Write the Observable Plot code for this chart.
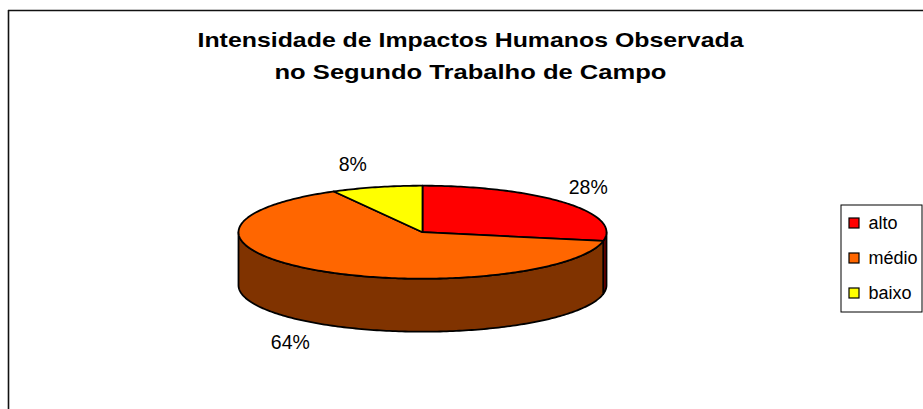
<!DOCTYPE html>
<html>
<head>
<meta charset="utf-8">
<script src="https://cdn.jsdelivr.net/npm/d3@7"></script>
<script src="https://cdn.jsdelivr.net/npm/@observablehq/plot@0.6"></script>
<style>
  html, body { margin: 0; padding: 0; background: #fff; }
  svg { display: block; }
</style>
</head>
<body>
<div id="chart"></div>
<script>
// ---- data ----
const categories = ["alto", "médio", "baixo"];
const values = [28, 64, 8];
const labels = ["28%", "64%", "8%"];
const topColors = ["#FF0000", "#FF6600", "#FFFF00"];
const sideColors = ["#800000", "#803300", "#808000"];
const titleLines = ["Intensidade de Impactos Humanos Observada", "no Segundo Trabalho de Campo"];

// ---- layout ----
const W = 923, H = 409;
const cx = 422, cy = 231.7, rx = 184, ry = 46.5, depth = 53;
const font = "'Liberation Sans', Arial, sans-serif";
const titleWidths = [546, 392];

const total = d3.sum(values);
let acc = 0;
const slices = values.map((v, i) => {
  const a0 = acc / total * 360; acc += v;
  return {i, a0, a1: acc / total * 360};
});

function pt(theta, dz = 0) {
  const r = theta * Math.PI / 180;
  return {x: cx + rx * Math.sin(r), y: cy + dz - ry * Math.cos(r)};
}
function arc(a0, a1, dz) {
  const n = Math.max(2, Math.ceil(a1 - a0));
  return d3.range(n + 1).map(k => pt(a0 + (a1 - a0) * k / n, dz));
}

const walls = [];
const tops = [];
for (const s of slices) {
  const b0 = Math.max(s.a0, 90), b1 = Math.min(s.a1, 270);
  if (b1 > b0) walls.push({i: s.i, pts: [...arc(b0, b1, 0), ...arc(b0, b1, depth).reverse()]});
  tops.push({i: s.i, pts: [{x: cx, y: cy}, ...arc(s.a0, s.a1, 0)]});
}

const labelData = slices.map(s => {
  const m = (s.a0 + s.a1) / 2 * Math.PI / 180;
  const sn = Math.sin(m), cs = Math.cos(m);
  return {
    text: labels[s.i],
    x: cx + rx * sn + Math.sign(sn) * 24,
    y: cs >= 0 ? cy - cs * (ry + 23) : cy + depth - cs * (ry + 25)
  };
});

const legendData = categories.map((c, i) => ({c, i, y: 223 + i * 35}));

const marks = [
  // outer chart border
  Plot.ruleY([10], {x1: 8, x2: W, stroke: "#111", strokeWidth: 1.6}),
  Plot.ruleX([8], {y1: 10, y2: H, stroke: "#111", strokeWidth: 1.6}),
  // title
  Plot.text(titleLines, {
    x: 470, y: (d, i) => 46 + i * 32, text: d => d,
    fontSize: 20.5, fontWeight: "bold", fontFamily: font, fill: "#000",
    textAnchor: "middle", lineAnchor: "bottom"
  }),
  // pie walls
  ...walls.map(w => Plot.line(w.pts, {
    x: "x", y: "y", curve: "linear-closed",
    fill: sideColors[w.i], stroke: "#000", strokeWidth: 1.8, strokeLinejoin: "round"
  })),
  // pie tops
  ...tops.map(t => Plot.line(t.pts, {
    x: "x", y: "y", curve: "linear-closed",
    fill: topColors[t.i], stroke: "#000", strokeWidth: 1.8, strokeLinejoin: "round"
  })),
  // percentage labels
  Plot.text(labelData, {
    x: "x", y: "y", text: "text", fontSize: 19.5, fontFamily: font, fill: "#000",
    textAnchor: "middle", lineAnchor: "middle"
  }),
  // legend box
  Plot.rect([0], {x1: 841, x2: 922, y1: 205, y2: 312, fill: "none", stroke: "#000", strokeWidth: 1}),
  Plot.rect(legendData, {
    x1: 849, x2: 859, y1: d => d.y - 5, y2: d => d.y + 5,
    fill: d => topColors[d.i], stroke: "#000", strokeWidth: 1.2
  }),
  Plot.text(legendData, {
    x: 868, y: "y", text: "c", fontSize: 18, fontFamily: font, fill: "#000",
    textAnchor: "start", lineAnchor: "middle"
  })
];

const chart = Plot.plot({
  width: W, height: H,
  margin: 0,
  x: {type: "linear", domain: [0, W], range: [0, W], axis: null},
  y: {type: "linear", domain: [0, H], range: [0, H], axis: null},
  style: {background: "#fff", fontFamily: font, overflow: "hidden"},
  marks
});
// stretch title glyphs horizontally to the reference's wide rendering
d3.select(chart).selectAll("text")
  .filter(function () { return titleLines.includes(this.textContent); })
  .each(function () {
    const i = titleLines.indexOf(this.textContent);
    this.setAttribute("textLength", titleWidths[i]);
    this.setAttribute("lengthAdjust", "spacingAndGlyphs");
  });
document.getElementById("chart").appendChild(chart);
</script>
</body>
</html>
